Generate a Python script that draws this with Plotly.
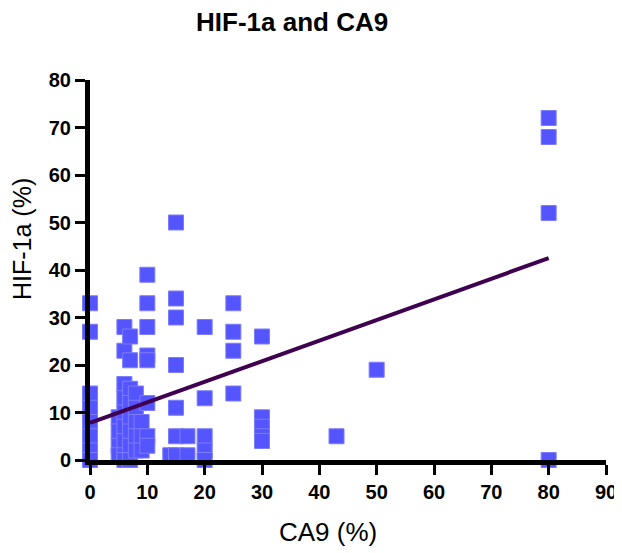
import plotly.graph_objects as go

# CA9 (%) and HIF-1a (%) pairs
ca9 = ([0] * 8 + [5] * 4 + [6] * 9 + [7] * 8 + [8] * 5 + [9] * 3 + [10] * 8 +
       [14] + [15] * 7 + [17] * 2 + [20] * 5 + [25] * 4 + [30] * 5 +
       [43] + [50] + [80] * 4)
hif1a = ([33, 27, 14, 11, 8, 5, 2, 0] +
         [9, 6, 3, 1] +
         [28, 23, 16, 13, 10, 7, 4, 1, 0] +
         [26, 21, 15, 12, 9, 6, 3, 0] +
         [14, 11, 8, 5, 2] +
         [8, 5, 2] +
         [39, 33, 28, 22, 21, 12, 5, 3] +
         [1] +
         [50, 34, 30, 20, 11, 5, 1] +
         [5, 1] +
         [28, 13, 5, 2, 0] +
         [33, 27, 23, 14] +
         [26, 9, 7, 5, 4] +
         [5] + [19] +
         [72, 68, 52, 0])

# regression line end points
fit_x = [0, 80]
fit_y = [7.8, 42.5]

x_ticks = [0, 10, 20, 30, 40, 50, 60, 70, 80, 90]
y_ticks = [0, 10, 20, 30, 40, 50, 60, 70, 80]

FONT = "Liberation Sans, Arial, sans-serif"

# the page puts the figure 8 px in from the top-left corner
OFF = 8
W, H = 622 - OFF, 553 - OFF
L, R, T, B = 90 - OFF, 606 - OFF, 80 - OFF, 460 - OFF  # plot area in figure px

fig = go.Figure()
fig.add_trace(go.Scatter(
    x=ca9, y=hif1a, mode="markers",
    marker=dict(symbol="square", size=15, color="#5555ff",
                line=dict(color="#7c7cff", width=1)),
    cliponaxis=False, showlegend=False, hoverinfo="x+y"))
fig.add_trace(go.Scatter(
    x=fit_x, y=fit_y, mode="lines",
    line=dict(color="#3f0050", width=4),
    cliponaxis=False, showlegend=False))

axis_common = dict(
    showgrid=False, zeroline=False, showline=True, linecolor="black",
    linewidth=5, ticks="outside", ticklen=10, tickwidth=3, tickcolor="black",
    automargin=False,
    tickfont=dict(family=FONT, size=20, color="black", weight="bold"),
)

fig.update_xaxes(range=[0, 90], tickvals=x_ticks, **axis_common)
fig.update_yaxes(range=[0, 80], tickvals=y_ticks, **axis_common)

pw, ph = R - L, B - T

fig.update_layout(
    width=W, height=H,
    margin=dict(l=L, r=W - R, t=T, b=H - B, autoexpand=False),
    plot_bgcolor="white", paper_bgcolor="white",
    annotations=[
        dict(text="<b>HIF-1a and CA9</b>", xref="paper", yref="paper",
             x=(292 - 90) / pw, y=(460 - 22) / ph,
             xanchor="center", yanchor="middle", showarrow=False,
             font=dict(family=FONT, size=26, color="black")),
        dict(text="CA9 (%)", xref="paper", yref="paper",
             x=(328 - 90) / pw, y=(460 - 532) / ph,
             xanchor="center", yanchor="middle", showarrow=False,
             font=dict(family=FONT, size=26, color="black")),
        dict(text="HIF-1a (%)", xref="paper", yref="paper",
             x=(22 - 90) / pw, y=(460 - 239) / ph, textangle=-90,
             xanchor="center", yanchor="middle", showarrow=False,
             font=dict(family=FONT, size=25, color="black")),
    ],
)

fig.write_html("out.html")
